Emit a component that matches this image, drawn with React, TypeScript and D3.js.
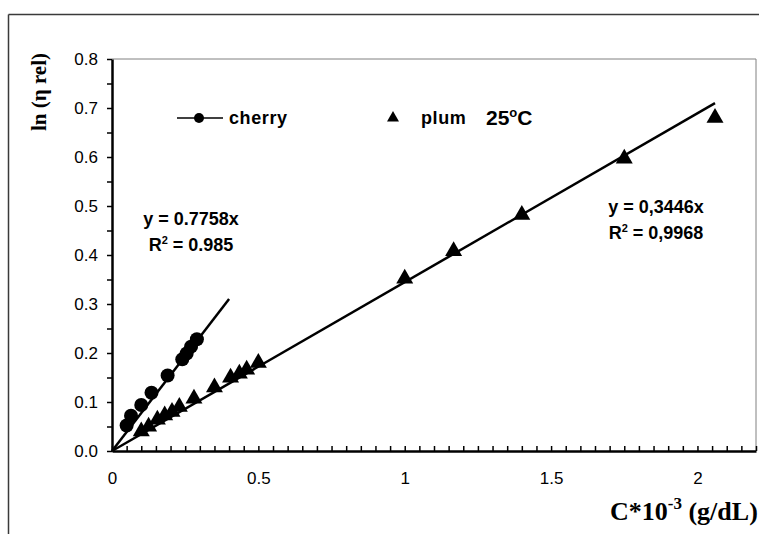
import * as d3 from "d3";
import { useEffect, useRef } from "react";

// cherry (circles) and plum (triangles), ln(eta rel) vs C*10^-3
const cherryX = [0.05, 0.065, 0.1, 0.135, 0.19, 0.24, 0.255, 0.27, 0.29];
const cherryY = [0.052, 0.072, 0.094, 0.119, 0.154, 0.187, 0.199, 0.213, 0.228];
const plumX = [0.1, 0.125, 0.155, 0.18, 0.205, 0.23, 0.28, 0.35, 0.405, 0.435, 0.46, 0.5, 1.0, 1.167, 1.4, 1.75, 2.06];
const plumY = [0.04, 0.05, 0.064, 0.073, 0.08, 0.09, 0.107, 0.13, 0.15, 0.158, 0.166, 0.18, 0.352, 0.408, 0.482, 0.597, 0.68];
const cherrySlope = 0.7758;
const plumSlope = 0.3446;
const cherryFitX = [0, 0.4];
const plumFitX = [0, 2.06];
const xTicks = [0, 0.5, 1, 1.5, 2];
const yTicks = [0, 0.1, 0.2, 0.3, 0.4, 0.5, 0.6, 0.7, 0.8];

export default function App() {
  const ref = useRef<SVGSVGElement | null>(null);

  useEffect(() => {
    if (!ref.current) return;
    const svg = d3.select(ref.current);
    svg.selectAll("*").remove();

    const width = 759;
    const height = 534;
    const m = { top: 59, right: 3, bottom: 83, left: 112 };
    const sans = "'Liberation Sans', Arial, sans-serif";
    const serif = "'Liberation Serif', 'Times New Roman', serif";

    const x = d3.scaleLinear().domain([0, 2.2]).range([m.left, width - m.right]);
    const y = d3.scaleLinear().domain([0, 0.8]).range([height - m.bottom, m.top]);

    // outer chart border
    svg.append("line").attr("x1", 8.5).attr("x2", width).attr("y1", 14.5).attr("y2", 14.5)
      .attr("stroke", "#3a3a3a").attr("stroke-width", 1.5);
    svg.append("line").attr("x1", 8.5).attr("x2", 8.5).attr("y1", 14.5).attr("y2", height)
      .attr("stroke", "#3a3a3a").attr("stroke-width", 1.5);

    // plot frame (top / right)
    svg.append("path")
      .attr("d", `M${x(0)},${y(0.8)}H${x(2.2)}V${y(0)}`)
      .attr("fill", "none").attr("stroke", "#808080").attr("stroke-width", 1);

    const minorX = d3.range(0, 2.2001, 0.05);
    const minorY = d3.range(0, 0.8001, 0.05);

    const xAxis = d3.axisBottom(x)
      .tickValues(minorX)
      .tickSizeInner(-5)
      .tickSizeOuter(0)
      .tickPadding(21)
      .tickFormat((d) => {
        const v = +d;
        const hit = xTicks.find((t) => Math.abs(t - v) < 1e-6);
        return hit === undefined ? "" : String(hit);
      });
    const gx = svg.append("g").attr("transform", `translate(0,${y(0)})`).call(xAxis);
    gx.select(".domain").attr("stroke", "#000").attr("stroke-width", 2.5);
    gx.selectAll(".tick line").attr("stroke", "#000").attr("stroke-width", 1.5);
    gx.selectAll(".tick text").attr("font-family", sans).attr("font-size", 17).attr("fill", "#000");

    const yAxis = d3.axisLeft(y)
      .tickValues(minorY)
      .tickSizeInner(5)
      .tickSizeOuter(0)
      .tickPadding(9)
      .tickFormat((d) => {
        const v = +d;
        const hit = yTicks.find((t) => Math.abs(t - v) < 1e-6);
        return hit === undefined ? "" : d3.format(".1f")(hit);
      });
    const gy = svg.append("g").attr("transform", `translate(${x(0)},0)`).call(yAxis);
    gy.select(".domain").attr("stroke", "#000").attr("stroke-width", 2.5);
    gy.selectAll(".tick line").attr("stroke", "#000").attr("stroke-width", 1.5);
    gy.selectAll(".tick text").attr("font-family", sans).attr("font-size", 17).attr("fill", "#000");

    // axis titles
    svg.append("text")
      .attr("transform", `translate(46,92) rotate(-90)`)
      .attr("text-anchor", "middle")
      .attr("font-family", serif).attr("font-weight", "bold").attr("font-size", 21)
      .text("ln (η rel)");

    const xt = svg.append("text")
      .attr("x", 610).attr("y", 520)
      .attr("font-family", serif).attr("font-weight", "bold").attr("font-size", 26);
    xt.append("tspan").text("C*10");
    xt.append("tspan").attr("dy", -11).attr("font-size", 17).text("-3");
    xt.append("tspan").attr("dy", 11).text(" (g/dL)");

    // fit lines
    const line = d3.line<number>().x((d) => x(d));
    svg.append("path")
      .attr("d", line.y((d) => y(d * cherrySlope))(cherryFitX))
      .attr("stroke", "#000").attr("stroke-width", 2.5).attr("fill", "none");
    svg.append("path")
      .attr("d", line.y((d) => y(d * plumSlope))(plumFitX))
      .attr("stroke", "#000").attr("stroke-width", 2.5).attr("fill", "none");

    // markers
    svg.append("g").selectAll("circle")
      .data(cherryX.map((v, i) => [v, cherryY[i]]))
      .join("circle")
      .attr("cx", (d) => x(d[0])).attr("cy", (d) => y(d[1]))
      .attr("r", 7).attr("fill", "#000");

    const tri = d3.symbol().type(d3.symbolTriangle).size(125);
    svg.append("g").selectAll("path")
      .data(plumX.map((v, i) => [v, plumY[i]]))
      .join("path")
      .attr("d", tri)
      .attr("transform", (d) => `translate(${x(d[0])},${y(d[1])})`)
      .attr("fill", "#000");

    // legend
    const ly = 118;
    svg.append("line").attr("x1", 177).attr("x2", 223).attr("y1", ly).attr("y2", ly)
      .attr("stroke", "#000").attr("stroke-width", 1.5);
    svg.append("circle").attr("cx", 199).attr("cy", ly).attr("r", 5).attr("fill", "#000");
    svg.append("text").attr("x", 229).attr("y", ly + 6)
      .attr("font-family", sans).attr("font-weight", "bold").attr("font-size", 18)
      .attr("letter-spacing", 0.6)
      .text("cherry");
    svg.append("path")
      .attr("d", d3.symbol().type(d3.symbolTriangle).size(62)())
      .attr("transform", `translate(393,${ly})`).attr("fill", "#000");
    svg.append("text").attr("x", 421).attr("y", ly + 6)
      .attr("font-family", sans).attr("font-weight", "bold").attr("font-size", 18)
      .attr("letter-spacing", 0.6)
      .text("plum");
    const tt = svg.append("text").attr("x", 486).attr("y", ly + 7)
      .attr("font-family", sans).attr("font-weight", "bold").attr("font-size", 21);
    tt.append("tspan").text("25");
    tt.append("tspan").attr("dy", -8).attr("font-size", 13).text("o");
    tt.append("tspan").attr("dy", 8).text("C");

    // equations
    const eq = (cx: number, cy: number, a: string, b: string) => {
      const t1 = svg.append("text").attr("x", cx).attr("y", cy).attr("text-anchor", "middle")
        .attr("font-family", sans).attr("font-weight", "bold").attr("font-size", 18);
      t1.text(a);
      const t2 = svg.append("text").attr("x", cx).attr("y", cy + 26).attr("text-anchor", "middle")
        .attr("font-family", sans).attr("font-weight", "bold").attr("font-size", 18);
      t2.append("tspan").text("R");
      t2.append("tspan").attr("dy", -7).attr("font-size", 11).text("2");
      t2.append("tspan").attr("dy", 7).text(b);
    };
    eq(191, 225, "y = 0.7758x", " = 0.985");
    eq(656, 213, "y = 0,3446x", " = 0,9968");
  }, []);

  return (
    <svg
      ref={ref}
      width={759}
      height={534}
      style={{ position: "absolute", left: 0, top: 0, display: "block", background: "#fff" }}
    />
  );
}
